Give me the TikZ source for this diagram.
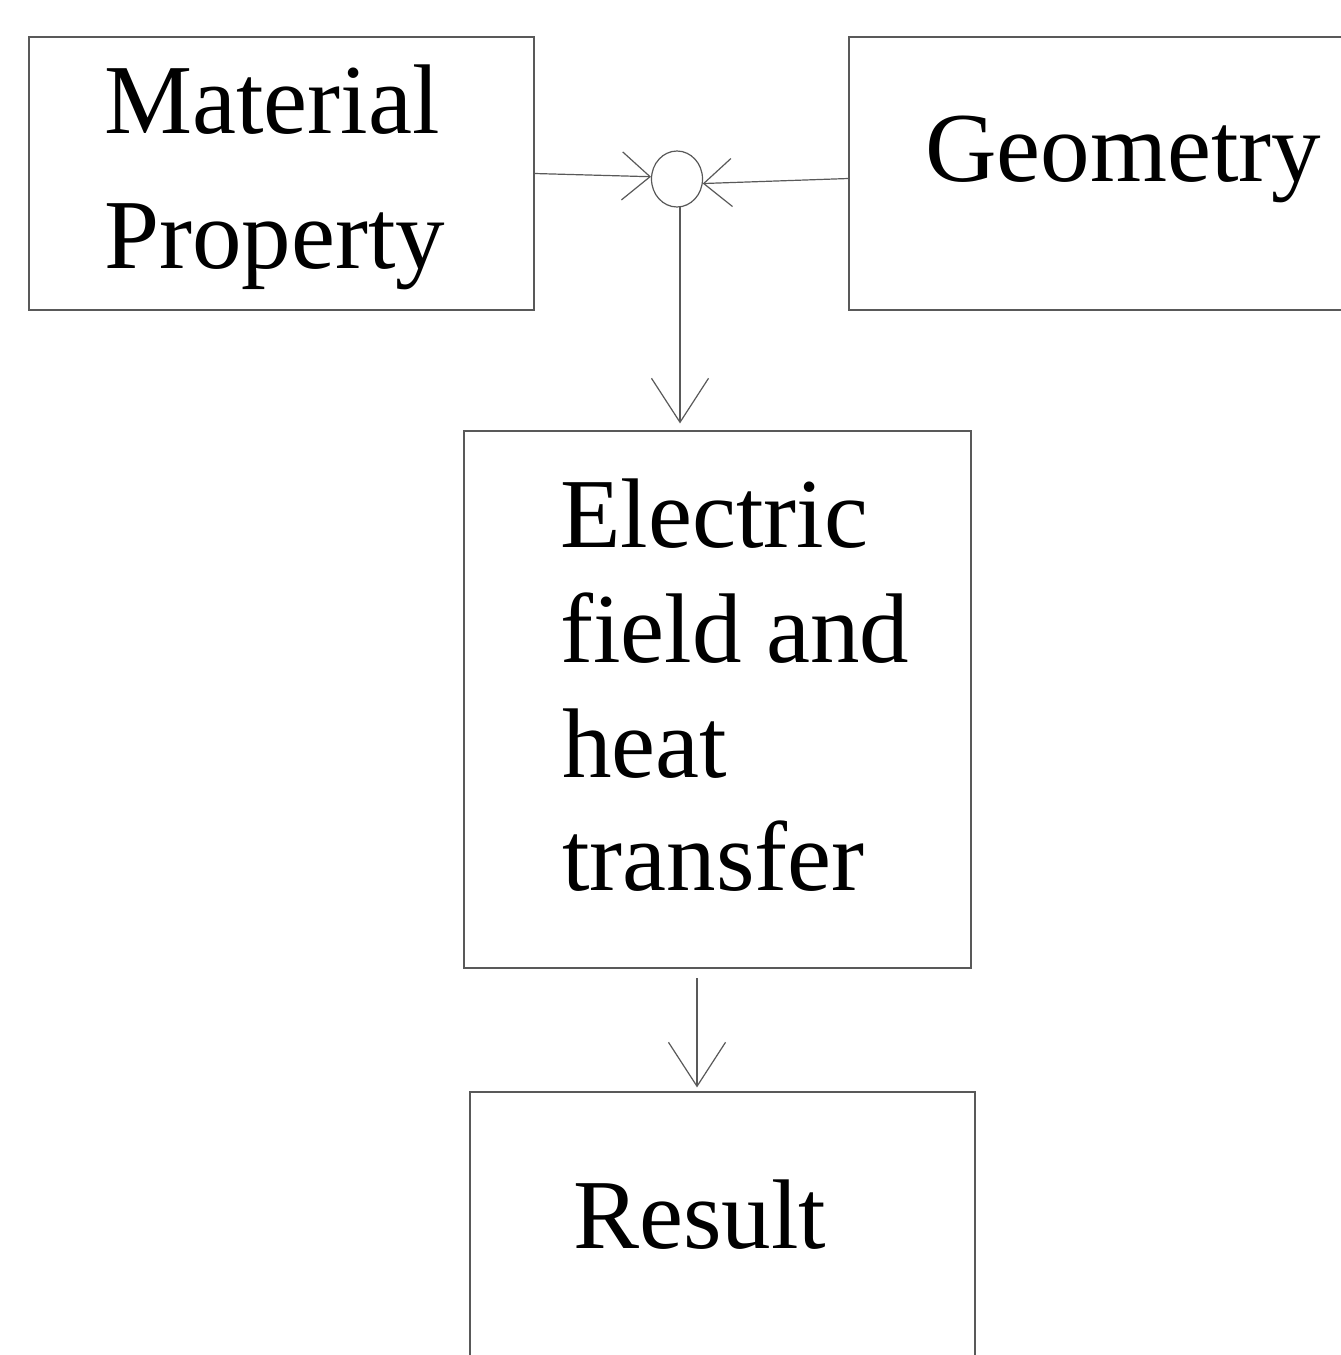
\documentclass[tikz,border=0pt]{standalone}
\usepackage{fontspec}
\setmainfont{Liberation Serif}
\usetikzlibrary{arrows.meta,shapes.geometric}
\begin{document}
\begin{tikzpicture}[x=1pt,y=-1pt,
  box/.style={draw=black!65,line width=1.2pt,rectangle,inner sep=0pt},
  lbl/.style={anchor=base west,inner sep=0pt,font=\fontsize{99}{99}\selectfont},
  conn/.style={draw=black!65,line width=1.2pt},
  hbarb/.style={-{Straight Barb[length=28pt,width=48pt,line width=1.2pt]}},
  vbarb/.style={-{Straight Barb[length=44pt,width=57pt,line width=1.2pt]}}]
\useasboundingbox (0,0) rectangle (1341,1355);
\fill[white] (0,0) rectangle (1341,1355);
% boxes
\node[box,minimum width=505pt,minimum height=273pt] (mat) at (281.5,173.5) {};
\node[box,minimum width=545pt,minimum height=273pt] (geo) at (1121.5,173.5) {};
\node[box,minimum width=507pt,minimum height=537pt] (elec) at (717.5,699.5) {};
\node[box,minimum width=505pt,minimum height=400pt] (res) at (722.5,1292) {};
\node[draw=black!65,line width=1.2pt,ellipse,minimum width=51pt,minimum height=56pt,inner sep=0pt] (circ) at (677,179) {};
% labels
\node[lbl] (t1) at (104,133) {Material};
\node[lbl] (t2) at (104,268) {Property};
\node[lbl] (t3) at (925,181) {Geometry};
\node[lbl] (t4) at (560,547) {Electric};
\node[lbl] (t5) at (560,662) {field and};
\node[lbl] (t6) at (562,777) {heat};
\node[lbl] (t7) at (562,890) {transfer};
\node[lbl] (t8) at (573,1248) {Result};
% connectors
\draw[conn,hbarb] (mat.east) -- (circ.175);
\draw[conn,hbarb] ([yshift=-5pt]geo.west) -- (circ.-10);
\coordinate (c1) at (680,207);
\draw[conn,vbarb,shorten >=7pt] (c1) -- (c1 |- elec.north);
\coordinate (c2) at (697,978);
\draw[conn,vbarb,shorten >=4pt] (c2) -- (c2 |- res.north);
\end{tikzpicture}
\end{document}
